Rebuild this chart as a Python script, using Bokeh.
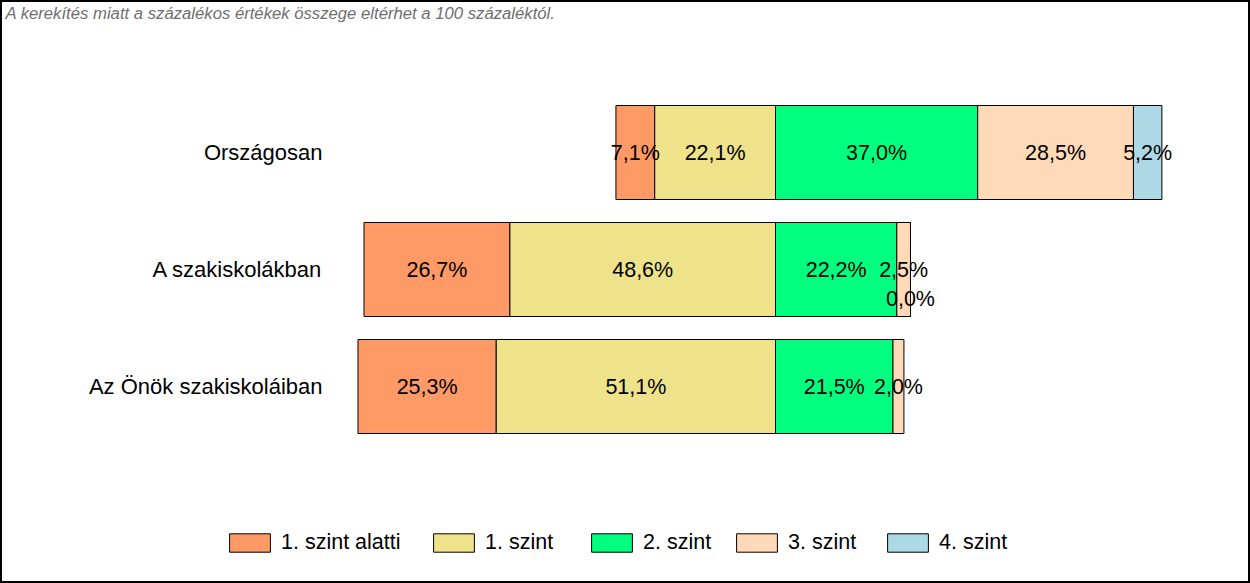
import math
from bokeh.plotting import figure
from bokeh.models import (ColumnDataSource, Range1d, Label, Legend, LegendItem, LabelSet)
from bokeh.core.properties import value
from bokeh.embed import file_html
from bokeh.resources import INLINE

# ---- data ----
categories = ["Országosan", "A szakiskolákban", "Az Önök szakiskoláiban"]
levels = ["1. szint alatti", "1. szint", "2. szint", "3. szint", "4. szint"]
below1 = [7.1, 26.7, 25.3]
lvl1 = [22.1, 48.6, 51.1]
lvl2 = [37.0, 22.2, 21.5]
lvl3 = [28.5, 2.5, 2.0]
lvl4 = [5.2, 0.0, float("nan")]
note = "A kerekítés miatt a  százalékos értékek összege eltérhet a 100 százaléktól."

colors = ["#FF9966", "#EEE38A", "#00FF7F", "#FFDAB9", "#ADD8E6"]

# ---- layout constants ----
W, H = 1250, 583
S = 5.465          # px per percent
CENTER_PX = 775    # px of the 1.szint / 2.szint boundary
ROW0_PX = 152
ROW_STEP = 117
BAR_H = 94 / ROW_STEP
FONT = "Liberation Sans"
LEGEND_BOX_PX = [229, 433, 591, 736, 887]   # left edge of each legend swatch

def px_x(px):
    return (px - CENTER_PX) / S

def px_y(py):
    return (py - ROW0_PX) / ROW_STEP

p = figure(width=W, height=H, output_backend="svg", toolbar_location=None,
           x_range=Range1d(px_x(0), px_x(W)),
           y_range=Range1d(px_y(H), px_y(0)),
           min_border=0)
p.axis.visible = False
p.grid.visible = False
p.outline_line_color = "black"
p.outline_line_width = 3
p.background_fill_color = "white"
p.border_fill_color = "white"

ys = list(range(len(categories)))
series = [below1, lvl1, lvl2, lvl3, lvl4]

# stacking: below1 and lvl1 to the left of 0, rest to the right
lefts, rights = [], []
l1_left = [-(a + b) for a, b in zip(below1, lvl1)]
lefts.append(l1_left); rights.append([-b for b in lvl1])
lefts.append([-b for b in lvl1]); rights.append([0.0] * len(lvl1))
cum = [0.0] * len(categories)
for s in (lvl2, lvl3, lvl4):
    lefts.append(cum[:])
    new = [c + (0 if math.isnan(v) else v) for c, v in zip(cum, s)]
    rights.append([c + v for c, v in zip(cum, s)])
    cum = new

for k, name in enumerate(levels):
    vals = series[k]
    idx = [i for i, v in enumerate(vals) if not math.isnan(v)]
    src = ColumnDataSource(dict(
        y=[ys[i] for i in idx],
        left=[lefts[k][i] for i in idx],
        right=[rights[k][i] for i in idx],
    ))
    r = p.hbar(y="y", left="left", right="right", height=BAR_H, source=src,
               fill_color=colors[k], line_color="black", line_width=1)

    legend = Legend(items=[LegendItem(label=name, renderers=[r])],
                    orientation="horizontal",
                    location=(LEGEND_BOX_PX[k] - 5, 28),
                    glyph_width=51, glyph_height=23, label_height=18,
                    label_standoff=6, spacing=0, padding=0, margin=0,
                    border_line_color=None, background_fill_alpha=0,
                    label_text_font=FONT, label_text_font_size="21.5px",
                    label_text_color="black")
    p.add_layout(legend)

    # value labels
    lx, ly, lt, lyo = [], [], [], []
    for i in idx:
        lx.append((lefts[k][i] + rights[k][i]) / 2)
        ly.append(ys[i])
        lt.append(f"{vals[i]:.1f}".replace(".", ",") + "%")
        lyo.append(-29 if vals[i] < 0.5 else 0)
    lsrc = ColumnDataSource(dict(x=lx, y=ly, t=lt, yo=lyo))
    p.add_layout(LabelSet(x="x", y="y", text="t", source=lsrc, y_offset="yo",
                          text_align="center", text_baseline="middle",
                          text_font=value(FONT), text_font_size="21.5px",
                          text_color="black"))

# category labels
csrc = ColumnDataSource(dict(x=[px_x(322)] * len(categories), y=ys, t=categories))
p.add_layout(LabelSet(x="x", y="y", text="t", source=csrc,
                      text_align="right", text_baseline="middle",
                      text_font=value(FONT), text_font_size="22px",
                      text_color="black"))

# note
p.add_layout(Label(x=px_x(5), y=px_y(13), text=note, text_align="left",
                   text_baseline="middle", text_font=FONT,
                   text_font_style="italic", text_font_size="16.7px",
                   text_color="#6E6E6E"))

open("out.html", "w").write(file_html(p, INLINE))
